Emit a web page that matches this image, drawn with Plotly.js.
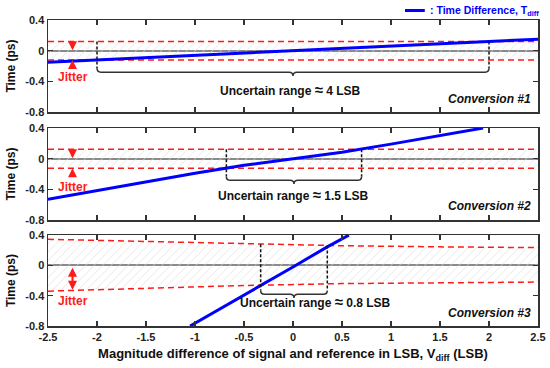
<!DOCTYPE html>
<html>
<head>
<meta charset="utf-8">
<script src="https://cdn.plot.ly/plotly-3.0.1.min.js"></script>
<style>html,body{margin:0;padding:0;background:#fff}#chart{width:550px;height:368px}</style>
</head>
<body>
<div id="chart"></div>
<script>
// ---- tick labels ----
const xTickVals = [-2.5, -2, -1.5, -1, -0.5, 0, 0.5, 1, 1.5, 2, 2.5];
const xTickText = ['-2.5', '-2', '-1.5', '-1', '-0.5', '0', '0.5', '1', '1.5', '2', '2.5'];
const yTickVals = [0.4, 0, -0.4, -0.8];
const yTickText = ['0.4', '0', '-0.4', '-0.8'];

// ---- Conversion #1 ----
const conv1X = [-2.5, 2.5];
const conv1T = [-0.15, 0.15];
const jit1X = [-2.5, 2.5];
const jit1Up = [0.12, 0.12];
const jit1Lo = [-0.12, -0.12];

// ---- Conversion #2 ----
const conv2X = [-2.5, -2, -1.5, -1, -0.5, 0, 0.5, 1, 1.5, 1.94];
const conv2T = [-0.53, -0.415, -0.305, -0.19, -0.085, 0, 0.085, 0.19, 0.305, 0.4];
const jit2X = [-2.5, 2.5];
const jit2Up = [0.125, 0.125];
const jit2Lo = [-0.125, -0.125];

// ---- Conversion #3 ----
const conv3X = [-1.05, -0.33, 0, 0.35, 0.57];
const conv3T = [-0.8, -0.27, -0.02, 0.245, 0.4];
const jit3X = [-2.5, -1.5, -0.5, 0.5, 1.5, 2.5];
const jit3Up = [0.345, 0.315, 0.285, 0.26, 0.245, 0.235];
const jit3Lo = [-0.34, -0.305, -0.265, -0.24, -0.23, -0.22];

// ---- uncertain ranges / labels ----
const rangeLo = [-2, -0.68, -0.33];
const rangeHi = [2, 0.7, 0.35];
const braceY = [-0.28, -0.28, -0.38];
const rangeValue = ['4', '1.5', '0.8'];
const rangeTextX = [-0.03, 0.0, 0.23];
const rangeTextY = [-0.5, -0.47, -0.475];
const convLabels = ['Conversion #1', 'Conversion #2', 'Conversion #3'];
const convLabelY = [-0.63, -0.62, -0.63];
const jitterTextY = [-0.34, -0.37, -0.47];
const jitterX = -2.25;

const panels = [
  {x: conv1X, t: conv1T, jx: jit1X, up: jit1Up, lo: jit1Lo},
  {x: conv2X, t: conv2T, jx: jit2X, up: jit2Up, lo: jit2Lo},
  {x: conv3X, t: conv3T, jx: jit3X, up: jit3Up, lo: jit3Lo}
];

function interp(xs, ys, x) {
  for (let i = 0; i < xs.length - 1; i++) {
    if (x >= xs[i] && x <= xs[i + 1]) {
      const f = (x - xs[i]) / (xs[i + 1] - xs[i]);
      return ys[i] + f * (ys[i + 1] - ys[i]);
    }
  }
  return ys[ys.length - 1];
}

const BLUE = '#0000ff', RED = '#ff1a1a', DARK = '#333333';
const FONT = 'Liberation Sans, Arial, sans-serif';
const traces = [];
const shapes = [];
const annotations = [];

panels.forEach((p, i) => {
  const sx = i === 0 ? '' : String(i + 1);
  const xa = 'x' + sx, ya = 'y' + sx;
  traces.push({x: p.jx, y: p.up, xaxis: xa, yaxis: ya, mode: 'lines', showlegend: false,
    line: {color: RED, width: 1.5, dash: '6px,4px'}, hoverinfo: 'skip'});
  traces.push({x: p.jx, y: p.lo, xaxis: xa, yaxis: ya, mode: 'lines', showlegend: false,
    line: {color: RED, width: 1.5, dash: '6px,4px'}, fill: 'tonexty',
    fillcolor: 'rgba(0,0,0,0)',
    fillpattern: {shape: '/', fgcolor: '#dedede', bgcolor: 'rgba(0,0,0,0)', size: 6, solidity: 0.12, fillmode: 'replace'},
    hoverinfo: 'skip'});
  traces.push({x: p.x, y: p.t, xaxis: xa, yaxis: ya, mode: 'lines', showlegend: false,
    line: {color: BLUE, width: 3}, name: 'Time Difference'});

  // uncertain range bracket
  const lo = rangeLo[i], hi = rangeHi[i], yb = braceY[i];
  const mid = (lo + hi) / 2;
  const rx = 0.04, ry = 0.05;
  const topLo = interp(p.jx, p.up, lo), topHi = interp(p.jx, p.up, hi);
  shapes.push({type: 'line', xref: xa, yref: ya, x0: lo, x1: lo, y0: topLo, y1: yb + ry,
    line: {color: '#111', width: 1.5, dash: '3px,2px'}});
  shapes.push({type: 'line', xref: xa, yref: ya, x0: hi, x1: hi, y0: topHi, y1: yb + ry,
    line: {color: '#111', width: 1.5, dash: '3px,2px'}});
  const path = `M ${lo},${yb + ry} Q ${lo},${yb} ${lo + rx},${yb} L ${mid - rx},${yb} ` +
    `Q ${mid},${yb} ${mid},${yb - ry} Q ${mid},${yb} ${mid + rx},${yb} L ${hi - rx},${yb} ` +
    `Q ${hi},${yb} ${hi},${yb + ry}`;
  shapes.push({type: 'path', xref: xa, yref: ya, path: path, line: {color: DARK, width: 1.5}});

  annotations.push({xref: xa, yref: ya, x: rangeTextX[i], y: rangeTextY[i],
    text: '<b>Uncertain range <span style="font-size:15px">≈</span> ' + rangeValue[i] + ' LSB</b>',
    showarrow: false, font: {family: FONT, size: 12, color: '#111'}, xanchor: 'center', yanchor: 'middle'});
  annotations.push({xref: xa, yref: ya, x: 2.45, y: convLabelY[i], text: '<b><i>' + convLabels[i] + '</i></b>',
    showarrow: false, font: {family: FONT, size: 12, color: '#111'}, xanchor: 'right', yanchor: 'middle'});
  annotations.push({xref: xa, yref: ya, x: jitterX, y: jitterTextY[i], text: '<b>Jitter</b>',
    showarrow: false, font: {family: FONT, size: 12, color: RED}, xanchor: 'center', yanchor: 'middle'});

  if (i < 2) {
    const u = interp(p.jx, p.up, jitterX), l = interp(p.jx, p.lo, jitterX);
    annotations.push({xref: xa, yref: ya, axref: xa, ayref: ya, x: jitterX, y: 0.005, ax: jitterX, ay: u + 0.01,
      text: '', showarrow: true, arrowhead: 2, arrowsize: 0.9, arrowwidth: 2, arrowcolor: RED});
    annotations.push({xref: xa, yref: ya, axref: xa, ayref: ya, x: jitterX, y: l, ax: jitterX, ay: l - 0.11,
      text: '', showarrow: true, arrowhead: 2, arrowsize: 0.9, arrowwidth: 2, arrowcolor: RED});
  } else {
    const l = interp(p.jx, p.lo, jitterX);
    annotations.push({xref: xa, yref: ya, axref: xa, ayref: ya, x: jitterX, y: l + 0.01, ax: jitterX, ay: -0.01,
      text: '', showarrow: true, arrowhead: 2, startarrowhead: 2, arrowside: 'end+start',
      arrowsize: 0.9, startarrowsize: 0.9, arrowwidth: 2, arrowcolor: RED});
  }
});

// legend (drawn as shape + text)
shapes.push({type: 'line', xref: 'paper', yref: 'paper', x0: 0.7286, x1: 0.769, y0: 1.031, y1: 1.031,
  line: {color: BLUE, width: 3}});
annotations.push({xref: 'paper', yref: 'paper', x: 0.776, y: 1.031, xanchor: 'left', yanchor: 'middle',
  text: '<b>: Time Difference, T<sub>diff</sub></b>', showarrow: false,
  font: {family: FONT, size: 10.5, color: BLUE}});

const tickFont = {family: FONT, size: 11, color: '#222', weight: 'bold'};
function xAxis(anchor, labels) {
  return {anchor: anchor, domain: [0, 1], range: [-2.5, 2.5], tickvals: xTickVals, ticktext: xTickText,
    showticklabels: labels, ticks: 'inside', ticklen: 5, tickwidth: 1.5, tickcolor: DARK, mirror: 'ticks',
    showline: true, linecolor: DARK, linewidth: 1.5, showgrid: false, zeroline: false, tickfont: tickFont};
}
function yAxis(anchor, dom) {
  return {anchor: anchor, domain: dom, range: [-0.8, 0.4], tickvals: yTickVals, ticktext: yTickText,
    ticks: 'inside', ticklen: 5, tickwidth: 1.5, tickcolor: DARK, mirror: 'ticks',
    showline: true, linecolor: DARK, linewidth: 1.5, showgrid: false,
    zeroline: true, zerolinecolor: '#8a8a8a', zerolinewidth: 2, tickfont: tickFont,
    title: {text: '<b>Time (ps)</b>', font: {family: FONT, size: 12, color: '#111'}, standoff: 7}};
}

const layout = {
  width: 550, height: 368,
  margin: {l: 48, r: 12, t: 20, b: 42},
  paper_bgcolor: '#fff', plot_bgcolor: '#fff',
  showlegend: false,
  xaxis: xAxis('y', false),
  xaxis2: xAxis('y2', false),
  xaxis3: Object.assign(xAxis('y3', true), {
    title: {text: '<b>Magnitude difference of signal and reference in LSB, V<sub>diff</sub> (LSB)</b>',
      font: {family: FONT, size: 13, color: '#111'}, standoff: 7}}),
  yaxis: yAxis('x', [0.699, 1]),
  yaxis2: yAxis('x2', [0.346, 0.647]),
  yaxis3: yAxis('x3', [0, 0.297]),
  shapes: shapes,
  annotations: annotations
};

Plotly.newPlot('chart', traces, layout, {displayModeBar: false, staticPlot: true});
</script>
</body>
</html>
